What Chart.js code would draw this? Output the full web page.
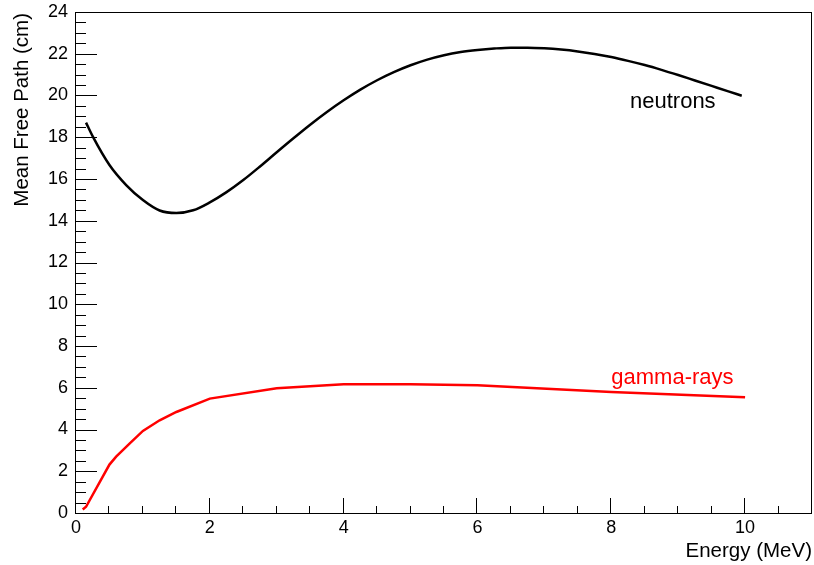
<!DOCTYPE html>
<html>
<head>
<meta charset="utf-8">
<title>Mean Free Path</title>
<script src="https://cdn.jsdelivr.net/npm/chart.js@4"></script>
<style>
  html, body { margin: 0; padding: 0; background: #fff; }
  canvas { display: block; }
</style>
</head>
<body>
<canvas id="mfpChart" width="814" height="565"></canvas>
<script>
// Mean free path vs energy for neutrons and gamma-rays
const neutronEnergy = [0.15, 0.25, 0.5, 0.75, 1.0, 1.25, 1.5, 1.75, 2.0, 2.25, 2.5, 2.75,
  3.0, 3.25, 3.5, 3.75, 4.0, 4.25, 4.5, 4.75, 5.0, 5.25, 5.5, 5.75, 6.0, 6.25, 6.5, 6.75,
  7.0, 7.25, 7.5, 7.75, 8.0, 8.25, 8.5, 8.75, 9.0, 9.25, 9.5, 9.75, 9.95];
const neutronPath = [18.7, 18.04, 16.67, 15.71, 14.99, 14.49, 14.37, 14.5, 14.88, 15.37,
  15.95, 16.6, 17.28, 17.95, 18.6, 19.21, 19.77, 20.28, 20.73, 21.12, 21.45, 21.72, 21.93,
  22.08, 22.18, 22.25, 22.29, 22.29, 22.26, 22.2, 22.11, 21.99, 21.84, 21.66, 21.46,
  21.23, 20.98, 20.72, 20.46, 20.2, 19.99];

const gammaEnergy = [0.1, 0.15, 0.5, 0.6, 0.8, 1.0, 1.25, 1.5, 2.0, 3.0, 4.0, 5.0, 6.0, 8.0, 10.0];
const gammaPath = [0.17, 0.3, 2.32, 2.7, 3.32, 3.93, 4.44, 4.84, 5.48, 5.98, 6.17, 6.17, 6.12, 5.8, 5.55];

const xTickValues = [0, 2, 4, 6, 8, 10];
const yTickValues = [0, 2, 4, 6, 8, 10, 12, 14, 16, 18, 20, 22, 24];

const FONT = '"Liberation Sans", Arial, Helvetica, sans-serif';

const toPoints = (xs, ys) => xs.map((x, i) => ({ x: x, y: ys[i] }));

// frame, inward ticks, axis titles and curve labels
const rootStyle = {
  id: "rootStyle",
  afterDraw(chart) {
    const { ctx, chartArea: a, scales } = chart;
    const xs = scales.x, ys = scales.y;
    ctx.save();
    ctx.strokeStyle = "#000";
    ctx.lineWidth = 1;
    ctx.strokeRect(Math.round(a.left) - 0.5, Math.round(a.top) + 0.5,
      Math.round(a.right - a.left), Math.round(a.bottom - a.top));

    ctx.beginPath();
    for (let v = 0; v <= 11.001; v += 0.5) {
      const px = Math.round(xs.getPixelForValue(v)) - 0.5;
      const len = v % 2 === 0 ? 15 : 7;
      ctx.moveTo(px, a.bottom);
      ctx.lineTo(px, a.bottom - len);
    }
    for (let v = 0; v <= 24.001; v += 0.5) {
      const py = Math.round(ys.getPixelForValue(v)) + 0.5;
      const len = v % 2 === 0 ? 21 : 10;
      ctx.moveTo(a.left, py);
      ctx.lineTo(a.left + len, py);
    }
    ctx.stroke();

    ctx.fillStyle = "#000";
    ctx.font = "20.5px " + FONT;
    ctx.textBaseline = "alphabetic";
    ctx.textAlign = "right";
    ctx.fillText("Energy (MeV)", 812, 557);

    ctx.save();
    ctx.translate(28, 13);
    ctx.rotate(-Math.PI / 2);
    ctx.textAlign = "right";
    ctx.fillText("Mean Free Path (cm)", 0, 0);
    ctx.restore();

    ctx.font = "22px " + FONT;
    ctx.textAlign = "left";
    ctx.fillStyle = "#000";
    ctx.fillText("neutrons", xs.getPixelForValue(8.28), ys.getPixelForValue(19.4));
    ctx.fillStyle = "#ff0000";
    ctx.fillText("gamma-rays", xs.getPixelForValue(8.0), ys.getPixelForValue(6.17));
    ctx.restore();
  },
};

const ctx = document.getElementById("mfpChart").getContext("2d");
const mfpChart = new Chart(ctx, {
  type: "line",
  data: {
    datasets: [
      {
        label: "neutrons",
        data: toPoints(neutronEnergy, neutronPath),
        borderColor: "#000",
        borderWidth: 2.5,
        pointRadius: 0,
        fill: false,
        cubicInterpolationMode: "monotone",
      },
      {
        label: "gamma-rays",
        data: toPoints(gammaEnergy, gammaPath),
        borderColor: "#ff0000",
        borderWidth: 2.5,
        pointRadius: 0,
        fill: false,
        tension: 0,
      },
    ],
  },
  options: {
    responsive: false,
    animation: false,
    layout: { padding: { top: 12, right: 2, left: 0, bottom: 0 } },
    plugins: {
      legend: { display: false },
      tooltip: { enabled: false },
    },
    scales: {
      x: {
        type: "linear",
        min: 0,
        max: 11,
        grid: { display: false, drawTicks: false },
        border: { display: false },
        afterBuildTicks: (s) => { s.ticks = xTickValues.map((v) => ({ value: v })); },
        afterFit: (s) => { s.height = 52; s.paddingLeft = 0; s.paddingRight = 0; },
        ticks: {
          color: "#000",
          padding: 4,
          maxRotation: 0,
          autoSkip: false,
          font: { family: FONT, size: 18 },
        },
      },
      y: {
        type: "linear",
        min: 0,
        max: 24,
        grid: { display: false, drawTicks: false },
        border: { display: false },
        afterBuildTicks: (s) => { s.ticks = yTickValues.map((v) => ({ value: v })); },
        afterFit: (s) => { s.width = 76; s.paddingTop = 0; s.paddingBottom = 0; },
        ticks: {
          color: "#000",
          padding: 8,
          autoSkip: false,
          font: { family: FONT, size: 18 },
        },
      },
    },
  },
  plugins: [rootStyle],
});
</script>
</body>
</html>
